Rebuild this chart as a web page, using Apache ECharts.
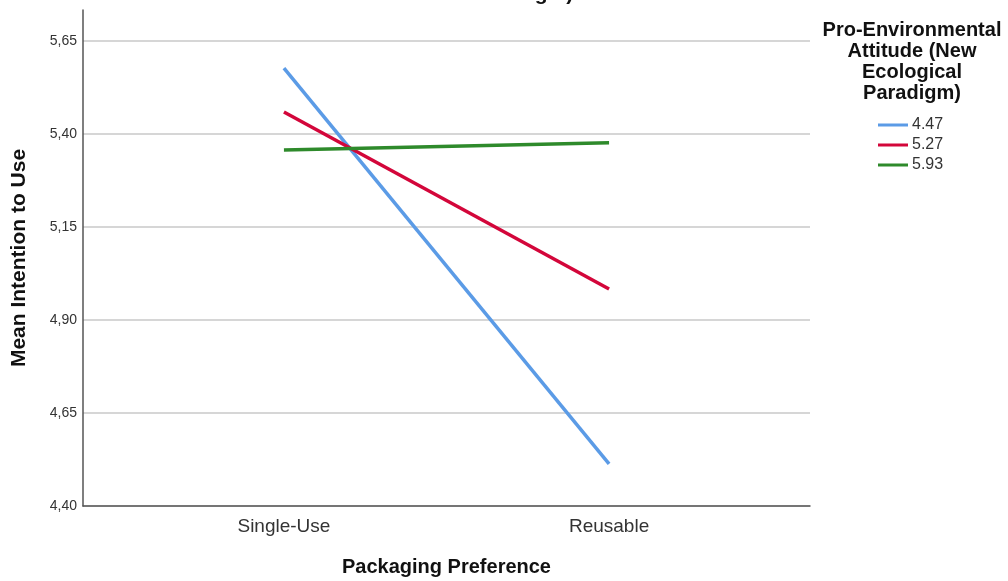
<!DOCTYPE html>
<html>
<head>
<meta charset="utf-8">
<script src="https://cdn.jsdelivr.net/npm/echarts@6/dist/echarts.min.js"></script>
<style>
  html, body { margin: 0; padding: 0; background: #fff; }
  #chart { width: 1008px; height: 581px; }
</style>
</head>
<body>
<div id="chart"></div>
<script>
// Estimated marginal means of intention to use, by packaging preference
const categories = ['Single-Use', 'Reusable'];
const groupNames = ['4.47', '5.27', '5.93'];
const low = [5.577, 4.513];   // attitude 4.47
const mid = [5.459, 4.983];   // attitude 5.27
const high = [5.357, 5.376];  // attitude 5.93
const yTicks = [4.40, 4.65, 4.90, 5.15, 5.40, 5.65];

const colors = ['#5b9be6', '#d3063a', '#2e8a2b'];
const seriesValues = [low, mid, high];

const chart = echarts.init(document.getElementById('chart'));
const font = 'Arial, "Liberation Sans", sans-serif';

chart.setOption({
  animation: false,
  backgroundColor: '#ffffff',
  grid: { left: 83, right: 198, top: 10, bottom: 75, outerBoundsMode: 'none', containLabel: false },
  xAxis: {
    type: 'value',
    min: -0.618,
    max: 1.618,
    name: 'Packaging Preference',
    nameLocation: 'middle',
    nameGap: 51,
    nameTextStyle: { fontFamily: font, fontSize: 20, fontWeight: 'bold', color: '#111' },
    axisLine: { show: true, onZero: false, lineStyle: { color: '#555', width: 1.5 } },
    axisTick: { show: false },
    splitLine: { show: false },
    axisLabel: {
      customValues: [0, 1],
      formatter: v => categories[Math.round(v)] || '',
      fontFamily: font, fontSize: 19, color: '#333', margin: 11
    }
  },
  yAxis: {
    type: 'value',
    min: 4.40,
    max: 5.733,
    name: 'Mean Intention to Use',
    nameLocation: 'middle',
    nameGap: 53,
    nameTextStyle: { fontFamily: font, fontSize: 21, fontWeight: 'bold', color: '#111' },
    axisLine: { show: true, onZero: false, lineStyle: { color: '#555', width: 1.5 } },
    axisTick: { show: false, customValues: yTicks },
    splitLine: { show: true, lineStyle: { color: '#c8c8c8', width: 1.5 } },
    axisLabel: {
      customValues: yTicks,
      formatter: v => v.toFixed(2).replace('.', ','),
      fontFamily: font, fontSize: 14, color: '#333', margin: 6,
      padding: [4, 0, 0, 0]
    }
  },
  legend: {
    orient: 'vertical',
    left: 878,
    top: 117,
    padding: 0,
    itemWidth: 30,
    itemHeight: 3,
    itemGap: 4,
    icon: 'rect',
    data: groupNames,
    textStyle: { fontFamily: font, fontSize: 16, color: '#333', padding: [0, 0, 0, -1] }
  },
  graphic: [
    {
      type: 'text',
      x: 522, y: -16,
      style: { text: 'Paradigm)', font: 'bold 21px ' + font, fill: '#111', align: 'center' }
    },
    {
      type: 'text',
      x: 912, y: 20,
      style: {
        text: 'Pro-Environmental\nAttitude (New\nEcological\nParadigm)',
        font: 'bold 20px ' + font,
        fill: '#111',
        align: 'center',
        lineHeight: 21
      }
    }
  ],
  series: groupNames.map((name, i) => ({
    name: name,
    type: 'line',
    data: seriesValues[i].map((v, j) => [j, v]),
    showSymbol: false,
    symbol: 'none',
    lineStyle: { color: colors[i], width: 3.5 },
    itemStyle: { color: colors[i] }
  }))
});
</script>
</body>
</html>
